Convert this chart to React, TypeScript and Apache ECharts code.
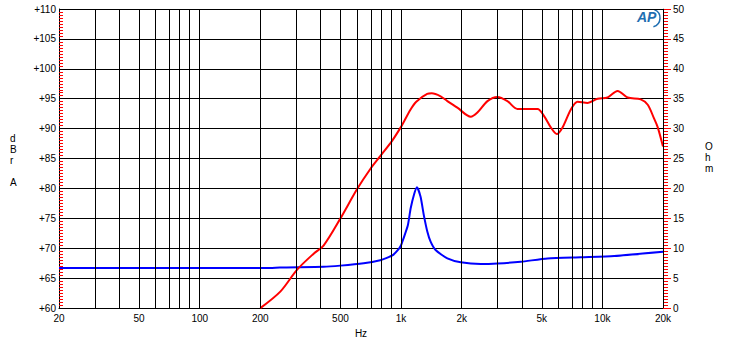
import React, { useEffect, useRef } from "react";
import * as echarts from "echarts";

const splFreq = [200, 252, 304, 368, 413, 500, 605, 705, 788, 904, 1000, 1020, 1115, 1190, 1348, 1420, 1572, 1698, 1904, 2218, 2394, 2686, 3010, 3376, 3786, 4761, 5134, 5543, 5940, 6338, 6974, 7528, 8444, 9464, 10600, 11900, 13350, 15500, 16800, 18000, 18800, 20000];
const splDb = [60.0, 62.8, 66.4, 69.1, 70.5, 75.0, 79.9, 83.3, 85.4, 88.0, 90.3, 90.8, 93.2, 94.5, 95.8, 95.9, 95.4, 94.6, 93.5, 92.0, 92.7, 94.6, 95.3, 94.6, 93.3, 93.3, 92.1, 90.2, 89.1, 90.2, 93.2, 94.5, 94.3, 95.0, 95.2, 96.3, 95.2, 94.9, 94.0, 91.8, 90.3, 87.0];

const impFreq = [20, 200, 224, 250, 412, 500, 652, 788, 850, 914, 970, 1000, 1020, 1080, 1115, 1160, 1200, 1250, 1298, 1350, 1402, 1484, 1698, 1978, 2486, 3010, 3932, 5336, 7820, 11450, 20000];
const impOhm = [6.7, 6.7, 6.7, 6.8, 6.9, 7.1, 7.5, 8.0, 8.4, 8.9, 9.8, 10.5, 11.3, 13.8, 16.6, 19.0, 20.2, 18.6, 15.5, 12.8, 11.1, 9.7, 8.3, 7.65, 7.36, 7.45, 7.75, 8.3, 8.5, 8.7, 9.4];

const gridFreqs = [20, 30, 40, 50, 60, 70, 80, 90, 100, 200, 300, 400, 500, 600, 700, 800, 900, 1000, 2000, 3000, 4000, 5000, 6000, 7000, 8000, 9000, 10000, 20000];
const labelFreqs = [20, 50, 100, 200, 500, 1000, 2000, 5000, 10000, 20000];

const FONT = "Liberation Sans";
const lg = (f: number) => Math.log10(f);

export default function App() {
  const ref = useRef<HTMLDivElement>(null);
  useEffect(() => {
    const chart = echarts.init(ref.current!, null, { renderer: "svg" });
    const fmt = (v: number) => {
      const f = Math.round(Math.pow(10, v));
      return f >= 1000 ? f / 1000 + "k" : String(f);
    };
    chart.setOption({
      animation: false,
      grid: { left: 59, right: 67, top: 9, bottom: 33 },
      xAxis: {
        type: "value",
        min: lg(20),
        max: lg(20000),
        name: "Hz",
        nameLocation: "middle",
        nameGap: 19,
        nameTextStyle: { color: "#000", fontSize: 10, fontFamily: FONT },
        axisLine: { show: true, lineStyle: { color: "#000", width: 1 } },
        axisTick: { show: false },
        splitLine: { show: false },
        axisLabel: {
          customValues: labelFreqs.map(lg),
          formatter: fmt,
          color: "#000",
          fontSize: 10,
          margin: 5,
          fontFamily: FONT,
        },
      },
      yAxis: [
        {
          type: "value",
          min: 60,
          max: 110,
          interval: 5,
          position: "left",
          axisLine: { show: true, lineStyle: { color: "#000", width: 1 } },
          axisTick: { show: true, inside: true, length: 5, lineStyle: { color: "#000", width: 1 } },
          minorTick: { show: true, splitNumber: 10, length: 4, lineStyle: { color: "#ff0000", width: 1 } },
          splitLine: { lineStyle: { color: "#000", width: 1 } },
          axisLabel: { formatter: (v: number) => "+" + v, color: "#000", fontSize: 10, margin: 3, fontFamily: FONT },
        },
        {
          type: "value",
          min: 0,
          max: 50,
          interval: 5,
          position: "right",
          axisLine: { show: true, lineStyle: { color: "#888", width: 1 } },
          axisTick: { show: true, length: 8, lineStyle: { color: "#ff0000", width: 1 } },
          minorTick: { show: true, splitNumber: 10, length: 5, lineStyle: { color: "#ff0000", width: 1 } },
          splitLine: { lineStyle: { color: "#000", width: 1 } },
          axisLabel: { color: "#000", fontSize: 10, margin: 10, fontFamily: FONT },
        },
      ],
      series: [
        {
          type: "line",
          data: [],
          silent: true,
          z: 1,
          markLine: {
            silent: true,
            symbol: ["none", "none"],
            label: { show: false },
            lineStyle: { color: "#000", width: 1, type: "solid" },
            data: gridFreqs.map((f) => ({ xAxis: lg(f) })),
          },
        },
        {
          type: "line",
          yAxisIndex: 1,
          data: impFreq.map((f, i) => [lg(f), impOhm[i]]),
          showSymbol: false,
          smooth: 0.2,
          lineStyle: { color: "#0000ff", width: 2 },
          z: 3,
        },
        {
          type: "line",
          yAxisIndex: 0,
          data: splFreq.map((f, i) => [lg(f), splDb[i]]),
          showSymbol: false,
          smooth: 0.3,
          lineStyle: { color: "#ff0000", width: 2 },
          z: 4,
        },
      ],
      graphic: [
        { type: "text", left: 10, top: 133, style: { text: "d\nB\nr\n\nA", fill: "#000", font: `10px ${FONT}`, lineHeight: 11, align: "center" } },
        { type: "text", left: 705, top: 141, style: { text: "O\nh\nm", fill: "#000", font: `10px ${FONT}`, lineHeight: 11, align: "center" } },
        { type: "text", left: 637, top: 10, style: { text: "AP", fill: "#1f6fb2", font: `italic bold 14px ${FONT}` } },
        { type: "arc", shape: { cx: 651, cy: 18, r: 9, startAngle: -1.2, endAngle: 1.3 }, style: { stroke: "#1f6fb2", lineWidth: 1.5, fill: "none" } },
      ],
    });
    return () => chart.dispose();
  }, []);
  return <div ref={ref} style={{ position: "absolute", left: 0, top: 0, width: 730, height: 343 }} />;
}
